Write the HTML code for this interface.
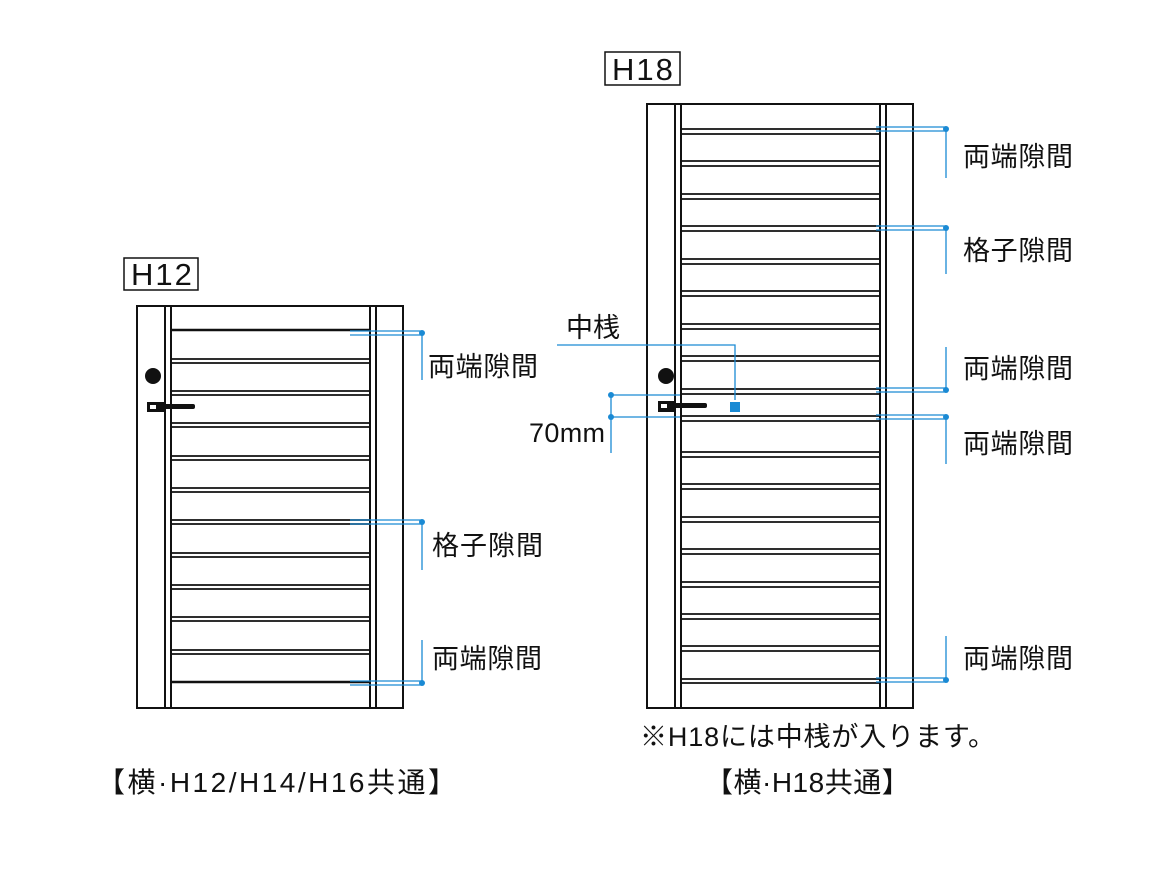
<!DOCTYPE html>
<html><head><meta charset="utf-8"><style>
html,body{margin:0;padding:0;background:#fff;}
svg{display:block}
text{font-family:"Liberation Sans","Noto Sans CJK JP",sans-serif;fill:#111;}
</style></head><body>
<svg width="1173" height="880" viewBox="0 0 1173 880" xmlns="http://www.w3.org/2000/svg">
<g fill="none" stroke="#111" stroke-width="2">
<rect x="137" y="306" width="266" height="402"/>
<line x1="165" y1="306" x2="165" y2="708"/><line x1="171" y1="306" x2="171" y2="708"/>
<line x1="370" y1="306" x2="370" y2="708"/><line x1="376" y1="306" x2="376" y2="708"/>
<g stroke-width="1.8">
<line x1="171" y1="330" x2="370" y2="330" stroke-width="2.5"/>
<path d="M171 359H370M171 363H370M171 391H370M171 395H370M171 423H370M171 427H370M171 456H370M171 460H370M171 488H370M171 492H370M171 520H370M171 524H370M171 553H370M171 557H370M171 585H370M171 589H370M171 617H370M171 621H370M171 650H370M171 654H370"/>
<line x1="171" y1="682" x2="370" y2="682" stroke-width="2.5"/>
</g>
<rect x="647" y="104" width="266" height="604"/>
<line x1="675" y1="104" x2="675" y2="708"/><line x1="681" y1="104" x2="681" y2="708"/>
<line x1="880" y1="104" x2="880" y2="708"/><line x1="886" y1="104" x2="886" y2="708"/>
<path stroke-width="1.8" d="M681 129H880M681 134H880M681 161H880M681 166H880M681 194H880M681 199H880M681 226H880M681 231H880M681 259H880M681 264H880M681 291H880M681 296H880M681 324H880M681 329H880M681 356H880M681 361H880M681 389H880M681 394H880M681 416H880M681 421H880M681 452H880M681 457H880M681 484H880M681 489H880M681 517H880M681 522H880M681 549H880M681 554H880M681 582H880M681 587H880M681 614H880M681 619H880M681 646H880M681 651H880M681 679H880M681 683H880"/>
<rect x="124" y="258" width="74" height="32" stroke-width="1.5"/>
<rect x="605" y="52" width="75" height="33" stroke-width="1.5"/>
</g>
<circle cx="153" cy="376" r="8" fill="#111"/>
<rect x="147" y="402" width="18" height="10" fill="#111"/><rect x="150" y="405" width="6" height="4" fill="#fff"/>
<rect x="160" y="404" width="35" height="5" rx="2" fill="#111"/>
<circle cx="666" cy="376" r="8" fill="#111"/>
<rect x="658" y="401" width="18" height="11" fill="#111"/><rect x="661" y="404" width="6" height="4" fill="#fff"/>
<rect x="672" y="403" width="35" height="5" rx="2" fill="#111"/>
<g stroke="#1a8ad4" stroke-width="1.3" fill="none">
<path d="M350 331H422M350 335H422M422 331V380"/>
<path d="M350 520H422M350 524H422M422 520V570"/>
<path d="M350 681H422M350 685H422M422 640V685"/>
<path d="M876 127H946M876 131H946M946 127V178"/>
<path d="M876 226H946M876 230H946M946 226V274"/>
<path d="M876 388H946M876 392H946M946 347V392"/>
<path d="M876 415H946M876 419H946M946 415V464"/>
<path d="M876 678H946M876 682H946M946 636V682"/>
<path d="M557 345H735V400"/>
<path d="M611 395H680M611 417H680M611 395V453"/>
</g>
<g fill="#1a8ad4">
<circle cx="422" cy="333" r="3"/><circle cx="422" cy="522" r="3"/><circle cx="422" cy="683" r="3"/>
<circle cx="946" cy="129" r="3"/><circle cx="946" cy="228" r="3"/><circle cx="946" cy="390" r="3"/><circle cx="946" cy="417" r="3"/><circle cx="946" cy="680" r="3"/>
<circle cx="611" cy="395" r="3"/><circle cx="611" cy="417" r="3"/>
<rect x="730" y="402" width="10" height="10"/>
</g>
<g font-size="27">
<text x="131" y="285" font-size="31" letter-spacing="2">H12</text>
<text x="612" y="80" font-size="31" letter-spacing="2">H18</text>
<text x="428" y="376" textLength="110">両端隙間</text>
<text x="432" y="555" textLength="111">格子隙間</text>
<text x="432" y="668" textLength="110">両端隙間</text>
<text x="963" y="166" textLength="110">両端隙間</text>
<text x="963" y="260" textLength="110">格子隙間</text>
<text x="963" y="378" textLength="110">両端隙間</text>
<text x="963" y="453" textLength="110">両端隙間</text>
<text x="963" y="668" textLength="110">両端隙間</text>
<text x="566" y="337" textLength="54">中桟</text>
<text x="529" y="442" textLength="76">70mm</text>
<text x="640" y="746" textLength="355">※H18には中桟が入ります。</text>
<text x="705" y="792" font-size="28" letter-spacing="0.5">【横·H18共通】</text>
<text x="97" y="792" font-size="28" letter-spacing="2.5">【横·H12/H14/H16共通】</text>
</g>
</svg>
</body></html>
